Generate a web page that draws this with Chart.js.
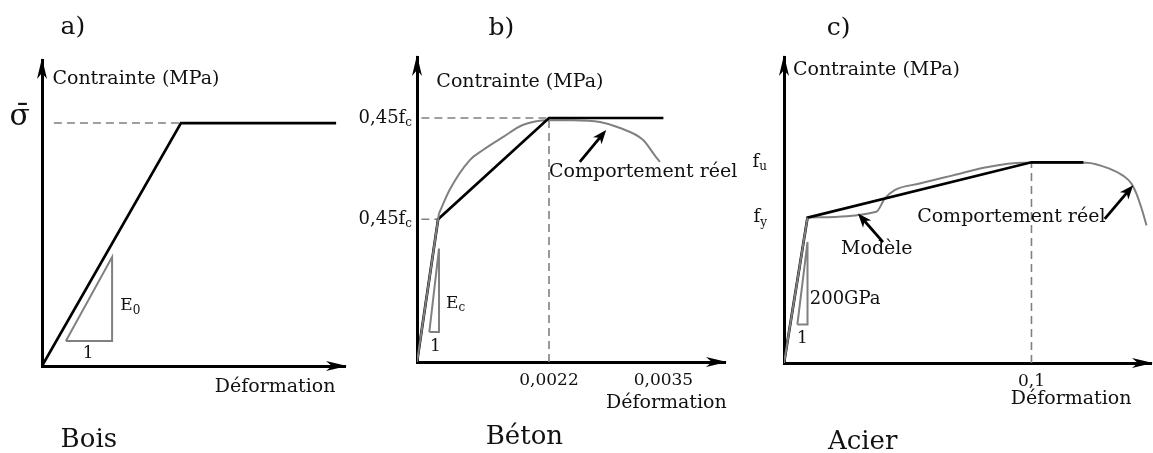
<!DOCTYPE html>
<html lang="fr">
<head>
<meta charset="utf-8">
<script src="https://cdn.jsdelivr.net/npm/chart.js@4.4.1/dist/chart.umd.min.js"></script>
<style>
  html, body { margin: 0; padding: 0; background: #fff; }
  #wrap { position: relative; width: 1153px; height: 453px; overflow: hidden; }
  canvas { position: absolute; top: 0; }
</style>
</head>
<body>
<div id="wrap">
  <canvas id="bois" width="355" height="453" style="left:0"></canvas>
  <canvas id="beton" width="395" height="453" style="left:345px"></canvas>
  <canvas id="acier" width="413" height="453" style="left:740px"></canvas>
</div>
<script>
// a) Bois : normalised units on both axes
var boisModelX = [0, 45.4, 96.1];
var boisModelY = [0, 79.4, 79.4];
var boisDashX = [3.9, 45.4];
var boisDashY = [79.4, 79.4];
var boisSlopeX = [7.8, 22.9, 22.9, 7.8];
var boisSlopeY = [8.2, 8.2, 35.6, 8.2];
var boisTickY = [79.4];
var boisTickYText = ['σ̄'];

// b) Béton : strain / normalised stress
var betonModelX = [0.0007, 0.00094, 0.0022, 0.0035];
var betonModelY = [0, 46.8, 80, 80];
var betonElasticX = [0.0007, 0.00095];
var betonElasticY = [0, 48.7];
var betonRealX = [0.00095, 0.00107, 0.0013, 0.00145, 0.00168, 0.0019, 0.00219, 0.00247, 0.00278, 0.0030, 0.00327, 0.0034, 0.00346];
var betonRealY = [48.7, 56.4, 66.2, 69.5, 73.8, 77.7, 79.3, 79.3, 78.7, 76.8, 72.8, 67.8, 65.6];
var betonSlopeX = [0.00084, 0.00095, 0.00095, 0.00084];
var betonSlopeY = [9.8, 9.8, 37.2, 9.8];
var betonTickX = [0.0022, 0.0035];
var betonTickY = [46.8, 80];
var betonTickYText = ['0,45f', '0,45f'];
var betonTickYSub = ['c', 'c'];

// c) Acier : strain / MPa
var acierModelX = [0, 0.0095, 0.1, 0.121];
var acierModelY = [0, 355, 490, 490];
var acierElasticX = [0, 0.0095];
var acierElasticY = [0, 355];
var acierRealX = [0.0095, 0.0373, 0.0407, 0.0447, 0.0548, 0.0683, 0.0818, 0.0966, 0.1222, 0.1317, 0.137, 0.1404, 0.1424, 0.1445, 0.1465];
var acierRealY = [355, 369, 401, 422, 438, 458, 478, 489, 489, 474, 457.5, 438, 413.5, 377, 336];
var acierSlopeX = [0.0054, 0.0095, 0.0095, 0.0054];
var acierSlopeY = [93.7, 93.7, 295.4, 93.7];
var acierTickX = [0.1];
var acierTickY = [355, 490];
var acierTickYText = ['f', 'f'];
var acierTickYSub = ['y', 'u'];

var FONT = '"DejaVu Serif", serif';
var INK = '#111';
var GREY = '#808080';

function pts(xs, ys) {
  return xs.map(function (x, i) { return { x: x, y: ys[i] }; });
}

function text(ctx, x, y, str, sub, size, align) {
  ctx.font = size + 'px ' + FONT;
  var w = ctx.measureText(str).width;
  var ss = Math.round(size * 0.68), sw = 0;
  if (sub) {
    ctx.font = ss + 'px ' + FONT;
    sw = ctx.measureText(sub).width;
  }
  var left = x;
  if (align === 'right') left = x - w - sw;
  else if (align === 'center') left = x - (w + sw) / 2;
  ctx.fillStyle = INK;
  ctx.textAlign = 'left';
  ctx.textBaseline = 'middle';
  ctx.font = size + 'px ' + FONT;
  ctx.fillText(str, left, y);
  if (sub) {
    ctx.font = ss + 'px ' + FONT;
    ctx.fillText(sub, left + w, y + size * 0.28);
  }
}

function head(ctx, x0, y0, x1, y1, len, half) {
  var ang = Math.atan2(y1 - y0, x1 - x0);
  ctx.save();
  ctx.translate(x1, y1);
  ctx.rotate(ang);
  ctx.beginPath();
  ctx.moveTo(0, 0);
  ctx.lineTo(-len, -half);
  ctx.lineTo(-len * 0.72, 0);
  ctx.lineTo(-len, half);
  ctx.closePath();
  ctx.fillStyle = '#000';
  ctx.fill();
  ctx.restore();
}

// axis arrows, y labels with subscripts, free notes and pointer arrows
var sketch = {
  id: 'sketch',
  afterDraw: function (chart, args, o) {
    var ctx = chart.ctx, sx = chart.scales.x, sy = chart.scales.y, a = chart.chartArea;
    ctx.save();
    head(ctx, a.left, a.bottom, a.right + 2, a.bottom, 21, 5);
    head(ctx, a.left, a.bottom, a.left, a.top - 2, 21, 5);

    sy.ticks.forEach(function (t, i) {
      var py = sy.getPixelForValue(t.value) + (o.yDy || 0);
      text(ctx, a.left - o.yPad, py, o.yText[i], o.ySub ? o.ySub[i] : '', o.ySize, 'right');
    });

    (o.notes || []).forEach(function (n) {
      text(ctx, sx.getPixelForValue(n.x), sy.getPixelForValue(n.y), n.t, n.s || '', n.size || 19, n.align || 'left');
    });

    (o.arrows || []).forEach(function (r) {
      var x0 = sx.getPixelForValue(r[0]), y0 = sy.getPixelForValue(r[1]);
      var x1 = sx.getPixelForValue(r[2]), y1 = sy.getPixelForValue(r[3]);
      var d = Math.hypot(x1 - x0, y1 - y0);
      ctx.beginPath();
      ctx.moveTo(x0, y0);
      ctx.lineTo(x1 - (x1 - x0) / d * 8, y1 - (y1 - y0) / d * 8);
      ctx.lineWidth = 2.8;
      ctx.strokeStyle = '#000';
      ctx.stroke();
      head(ctx, x0, y0, x1, y1, 14, 5.5);
    });
    ctx.restore();
  }
};

function line(data, color, width, order, dash, smooth) {
  return {
    data: data,
    showLine: true,
    borderColor: color,
    borderWidth: width,
    borderDash: dash || [],
    pointRadius: 0,
    tension: smooth ? 0.4 : 0,
    cubicInterpolationMode: smooth ? 'monotone' : 'default',
    fill: false,
    order: order
  };
}

function panel(id, p) {
  return new Chart(document.getElementById(id), {
    type: 'scatter',
    data: { datasets: p.datasets },
    options: {
      responsive: false,
      animation: false,
      events: [],
      layout: { padding: { top: p.top, right: p.right, left: 0, bottom: 0 } },
      plugins: { legend: { display: false }, tooltip: { enabled: false }, sketch: p.sketch },
      scales: {
        x: {
          type: 'linear',
          min: p.xMin, max: p.xMax,
          grid: { display: false, drawTicks: false },
          border: { display: true, color: '#000', width: 3 },
          afterBuildTicks: function (s) { s.ticks = (p.xTicks || []).map(function (v) { return { value: v }; }); },
          afterFit: function (s) { s.height = p.xHeight; },
          ticks: {
            display: !!p.xTicks,
            autoSkip: false,
            maxRotation: 0,
            padding: 8,
            color: INK,
            font: { family: FONT, size: 17 },
            callback: function (v) { return String(v).replace('.', ','); }
          }
        },
        y: {
          type: 'linear',
          min: 0, max: p.yMax,
          grid: { display: false, drawTicks: false },
          border: { display: true, color: '#000', width: 3 },
          afterBuildTicks: function (s) { s.ticks = p.yTicks.map(function (v) { return { value: v }; }); },
          afterFit: function (s) { s.width = p.yWidth; },
          ticks: { display: false }
        }
      }
    },
    plugins: [sketch]
  });
}

panel('bois', {
  top: 60, right: 10, xHeight: 87, yWidth: 42,
  xMin: 0, xMax: 99, yMax: 100, yTicks: boisTickY,
  datasets: [
    line(pts(boisModelX, boisModelY), '#000', 2.7, 0),
    line(pts(boisDashX, boisDashY), GREY, 1.6, 2, [8, 5]),
    line(pts(boisSlopeX, boisSlopeY), GREY, 2, 2)
  ],
  sketch: {
    yText: boisTickYText, ySize: 30, yPad: 12, yDy: -6,
    notes: [
      { x: 10.1, y: 110.5, t: 'a)', size: 25, align: 'center' },
      { x: 15.3, y: -24.2, t: 'Bois', size: 26, align: 'center' },
      { x: 3.4, y: 93.8, t: 'Contrainte (MPa)' },
      { x: 95.9, y: -6.9, t: 'Déformation', align: 'right' },
      { x: 25.6, y: 19.6, t: 'E', s: '0', size: 17 },
      { x: 15.1, y: 4.2, t: '1', size: 17, align: 'center' }
    ]
  }
});

panel('beton', {
  top: 57, right: 15, xHeight: 91, yWidth: 72,
  xMin: 0.0007, xMax: 0.0042, yMax: 100, xTicks: betonTickX, yTicks: betonTickY,
  datasets: [
    line(pts(betonModelX, betonModelY), '#000', 2.7, 0),
    line(pts(betonElasticX, betonElasticY), GREY, 2, -1),
    line(pts(betonRealX, betonRealY), GREY, 2, 1, null, true),
    line(pts([0.00075, 0.0022], [80, 80]), GREY, 1.6, 2, [8, 5]),
    line(pts([0.00075, 0.00094], [46.8, 46.8]), GREY, 1.6, 2, [8, 5]),
    line(pts([0.0022, 0.0022], [0, 80]), GREY, 1.6, 2, [8, 5]),
    line(pts(betonSlopeX, betonSlopeY), GREY, 2, 2)
  ],
  sketch: {
    yText: betonTickYText, ySub: betonTickYSub, ySize: 18, yPad: 5,
    notes: [
      { x: 0.00166, y: 109.5, t: 'b)', size: 25, align: 'center' },
      { x: 0.00192, y: -24.7, t: 'Béton', size: 26, align: 'center' },
      { x: 0.00092, y: 91.9, t: 'Contrainte (MPa)' },
      { x: 0.00422, y: -13.6, t: 'Déformation', align: 'right' },
      { x: 0.0022, y: 62.4, t: 'Comportement réel' },
      { x: 0.00103, y: 19.3, t: 'E', s: 'c', size: 17 },
      { x: 0.00091, y: 4.9, t: '1', size: 17, align: 'center' }
    ],
    arrows: [[0.00255, 65.6, 0.00285, 76.1]]
  }
});

panel('acier', {
  top: 57, right: 2, xHeight: 90, yWidth: 44,
  xMin: 0, xMax: 0.1483, yMax: 747, xTicks: acierTickX, yTicks: acierTickY,
  datasets: [
    line(pts(acierModelX, acierModelY), '#000', 2.7, 0),
    line(pts(acierElasticX, acierElasticY), GREY, 2, -1),
    line(pts(acierRealX, acierRealY), GREY, 2, 1, null, true),
    line(pts([0.1, 0.1], [0, 490]), GREY, 1.6, 2, [8, 5]),
    line(pts(acierSlopeX, acierSlopeY), GREY, 2, 2)
  ],
  sketch: {
    yText: acierTickYText, ySub: acierTickYSub, ySize: 18, yPad: 17,
    notes: [
      { x: 0.0221, y: 817, t: 'c)', size: 25, align: 'center' },
      { x: 0.0318, y: -193, t: 'Acier', size: 26, align: 'center' },
      { x: 0.0036, y: 716, t: 'Contrainte (MPa)' },
      { x: 0.1404, y: -87, t: 'Déformation', align: 'right' },
      { x: 0.0375, y: 279, t: 'Modèle', align: 'center' },
      { x: 0.0538, y: 356, t: 'Comportement réel' },
      { x: 0.0104, y: 155.5, t: '200GPa', size: 18 },
      { x: 0.0074, y: 59.6, t: '1', size: 17, align: 'center' }
    ],
    arrows: [[0.04, 295, 0.0299, 365], [0.1296, 352, 0.1411, 434]]
  }
});
</script>
</body>
</html>
